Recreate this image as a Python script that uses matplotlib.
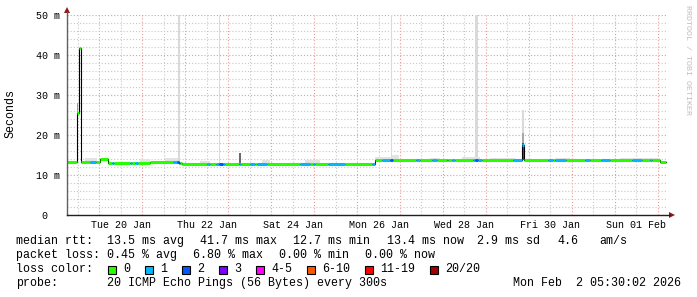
import numpy as np
import matplotlib
matplotlib.use("Agg")
import matplotlib.pyplot as plt
from matplotlib.lines import Line2D
from matplotlib.patches import Rectangle, Polygon

W, H = 697, 297
MONO = "Liberation Mono"

# time axis in days since Tue 20 Jan 2026 00:00
view_start, view_end = -0.757, 13.243

# median rtt (ms), step value valid from each time on
med_day = [-0.757, -0.524, -0.478, -0.431, 0.012, 0.205, 1.176, 1.852, 1.933,
           6.424, 9.846, 9.895, 13.056]
med_ms = [13.25, 25.6, 41.7, 13.25, 13.9, 12.9, 13.25, 13.0, 12.7,
          13.7, 17.4, 13.7, 13.3]
med_end = 13.196

# stretches with packet loss (index into loss colors)
loss_from = [-0.221, 0.284, 0.710, 0.827, 1.719, 1.805, 2.497, 2.714, 2.791, 2.884,
             3.249, 3.506, 3.676, 4.670, 4.966, 5.323, 6.341, 6.574, 6.767, 7.372,
             7.738, 8.088, 8.204, 8.707, 8.747, 8.824, 9.639, 9.846, 10.454, 10.611,
             11.310, 11.675, 12.397, 12.824]
loss_to = [-0.082, 0.338, 0.750, 0.904, 1.805, 1.875, 2.574, 2.791, 2.884, 2.923,
           3.296, 3.622, 3.902, 4.903, 5.020, 5.719, 6.424, 6.767, 6.830, 7.466,
           7.855, 8.125, 8.281, 8.747, 8.824, 8.903, 9.835, 9.895, 10.557, 10.867,
           11.425, 11.892, 12.630, 12.863]
loss_idx = [1, 1, 1, 1, 1, 2, 1, 1, 2, 1,
            1, 1, 1, 1, 1, 1, 1, 1, 2, 1,
            1, 1, 1, 1, 2, 1, 1, 1, 1, 1,
            1, 1, 1, 1]

# smoke (ping spread): from, to, low ms, high ms, shade
smoke_from = [1.822, 2.784, 6.783, 8.747, 9.846, 9.846, 9.846, 3.249, -0.531, -0.478,
              -0.338, 0.943, 1.526, 2.341, 3.785, 4.787, 6.417, 6.807, 7.699, 8.444,
              9.096, 10.611, 12.124]
smoke_to = [1.875, 2.818, 6.807, 8.824, 9.895, 9.895, 9.895, 3.296, -0.494, -0.455,
            -0.058, 1.176, 1.829, 2.574, 3.972, 5.136, 6.807, 6.970, 7.932, 8.863,
            9.678, 10.959, 13.056]
smoke_lo = [12.7, 12.7, 13.7, 13.7, 13.7, 13.7, 13.7, 12.7, 25.0, 39.2,
            13.0, 12.7, 13.0, 12.5, 12.5, 12.5, 13.5, 13.5, 13.5, 13.5,
            13.5, 13.5, 13.5]
smoke_hi = [60, 60, 60, 60, 26.3, 20.5, 18.0, 15.5, 28.0, 41.7,
            14.3, 14.0, 14.2, 13.6, 13.7, 13.7, 14.5, 14.9, 14.3, 14.5,
            14.3, 14.3, 14.3]
smoke_shade = ["#d9d9d9"] * 5 + ["#a8a8a8", "#555555", "#6a6a6a", "#9a9a9a", "#888888"] + ["#e3e3e3"] * 13

loss_colors = ["#26ff00", "#00b8ff", "#0059ff", "#7e00ff", "#ff00ff", "#ff5500", "#ff0000", "#a10000"]
loss_names = ["0", "1", "2", "3", "4-5", "6-10", "11-19", "20/20"]

day_label_at = [0.5, 2.5, 4.5, 6.5, 8.5, 10.5, 12.5]
day_labels = ["Tue 20 Jan", "Thu 22 Jan", "Sat 24 Jan", "Mon 26 Jan", "Wed 28 Jan", "Fri 30 Jan", "Sun 01 Feb"]

rtt_stats = ["13.5 ms avg", "41.7 ms max", "12.7 ms min", "13.4 ms now", "2.9 ms sd", "4.6", "am/s"]
loss_stats = ["0.45 % avg", "6.80 % max", "0.00 % min", "0.00 % now"]
probe_text = "20 ICMP Echo Pings (56 Bytes) every 300s"
stamp = "Mon Feb  2 05:30:02 2026"


def fx(x):
    return x / W


def fy(y):
    return 1 - y / H


fig = plt.figure(figsize=(W / 100, H / 100), dpi=100)
fig.patch.set_facecolor("white")
ax = fig.add_axes([fx(67), fy(215), 601 / W, 200 / H])
ax.set_xlim(view_start, view_end)
ax.set_ylim(0, 50)
for s in ax.spines.values():
    s.set_visible(False)

# grid
ax.set_yticks(range(0, 51, 10))
ax.set_yticks(range(0, 51, 2), minor=True)
ax.set_xticks(np.arange(0, 14))
ax.set_xticks(np.arange(-0.5, 13), minor=True)
dot = (0, (1, 1.8))
ax.grid(which="major", color="#e89a9a", lw=0.8, ls=dot, zorder=0)
ax.grid(which="minor", color="#c8c8c8", lw=0.8, ls=dot, zorder=0)
ax.set_axisbelow(True)
ax.tick_params(axis="x", which="both", length=0, labelbottom=False)
ax.tick_params(axis="y", which="major", length=0, pad=22.3, labelsize=7.2)
ax.tick_params(axis="y", which="minor", length=0)
ax.set_yticklabels([" 0", "10 m", "20 m", "30 m", "40 m", "50 m"], family=MONO)
for lab in ax.get_yticklabels():
    lab.set_horizontalalignment("left")

for d, lab in zip(day_label_at, day_labels):
    ax.text(d, -0.0475, lab, transform=ax.get_xaxis_transform(), ha="center", va="center",
            fontsize=7.2, family=MONO, clip_on=False)

# smoke
ax.bar(smoke_from, np.subtract(smoke_hi, smoke_lo), bottom=smoke_lo,
       width=np.subtract(smoke_to, smoke_from), align="edge", color=smoke_shade,
       linewidth=0, zorder=2)

# median line: black steps, then loss-colored segments
ax.step(med_day + [med_end], med_ms + [med_ms[-1]], where="post", color="black", lw=0.8, zorder=3)
edges = np.unique(np.r_[med_day, loss_from, loss_to, med_end])
edges = edges[(edges >= med_day[0]) & (edges <= med_end)]
for a, b in zip(edges[:-1], edges[1:]):
    m = (a + b) / 2
    lvl = med_ms[np.searchsorted(med_day, m, side="right") - 1]
    k = 0
    for f, t, i in zip(loss_from, loss_to, loss_idx):
        if f <= m < t:
            k = i
    ax.hlines(lvl, a, b, color=loss_colors[k], lw=2.2, zorder=4)

# axes with arrows
fig.add_artist(Line2D([fx(67), fx(67)], [fy(215), fy(12)], color="#606060", lw=1))
fig.add_artist(Line2D([fx(67), fx(670)], [fy(215), fy(215)], color="#202020", lw=1))
fig.add_artist(Polygon([(fx(64), fy(13)), (fx(70), fy(13)), (fx(67), fy(7))], closed=True,
                       color="#8b1a1a", lw=0))
fig.add_artist(Polygon([(fx(669), fy(212)), (fx(669), fy(218)), (fx(675), fy(215))], closed=True,
                       color="#8b1a1a", lw=0))

fig.text(fx(11), fy(113.5), "Seconds", rotation=90, ha="center", va="center", fontsize=8.4, family=MONO)
fig.text(fx(687), fy(60), "RRDTOOL / TOBI OETIKER", rotation=270, ha="center", va="center",
         fontsize=6, family=MONO, color="#bdbdbd")

# legend block
LS = 8.4


def line(x, y, s):
    fig.text(fx(x), fy(y), s, ha="left", va="center", fontsize=LS, family=MONO)


line(16, 241.3, "median rtt:")
for x, s in zip([107.3, 200, 293.3, 386.7, 476.7, 557.3, 599.3], rtt_stats):
    line(x, 241.3, s)
line(16, 255.3, "packet loss:")
for x, s in zip([107.3, 193.3, 279.3, 365], loss_stats):
    line(x, 255.3, s)
line(16, 269.3, "loss color:")
for x, c, s in zip([108.3, 145.3, 182.3, 219.3, 256, 307.3, 365.3, 430], loss_colors, loss_names):
    fig.add_artist(Rectangle((fx(x), fy(274)), 8 / W, 8.5 / H, facecolor=c, edgecolor="black", lw=0.8))
    line(x + 15, 269.3, s)
line(16, 283.3, "probe:")
line(107.3, 283.3, probe_text)
line(513.3, 283.3, stamp)

fig.savefig("out.png", dpi=100)
